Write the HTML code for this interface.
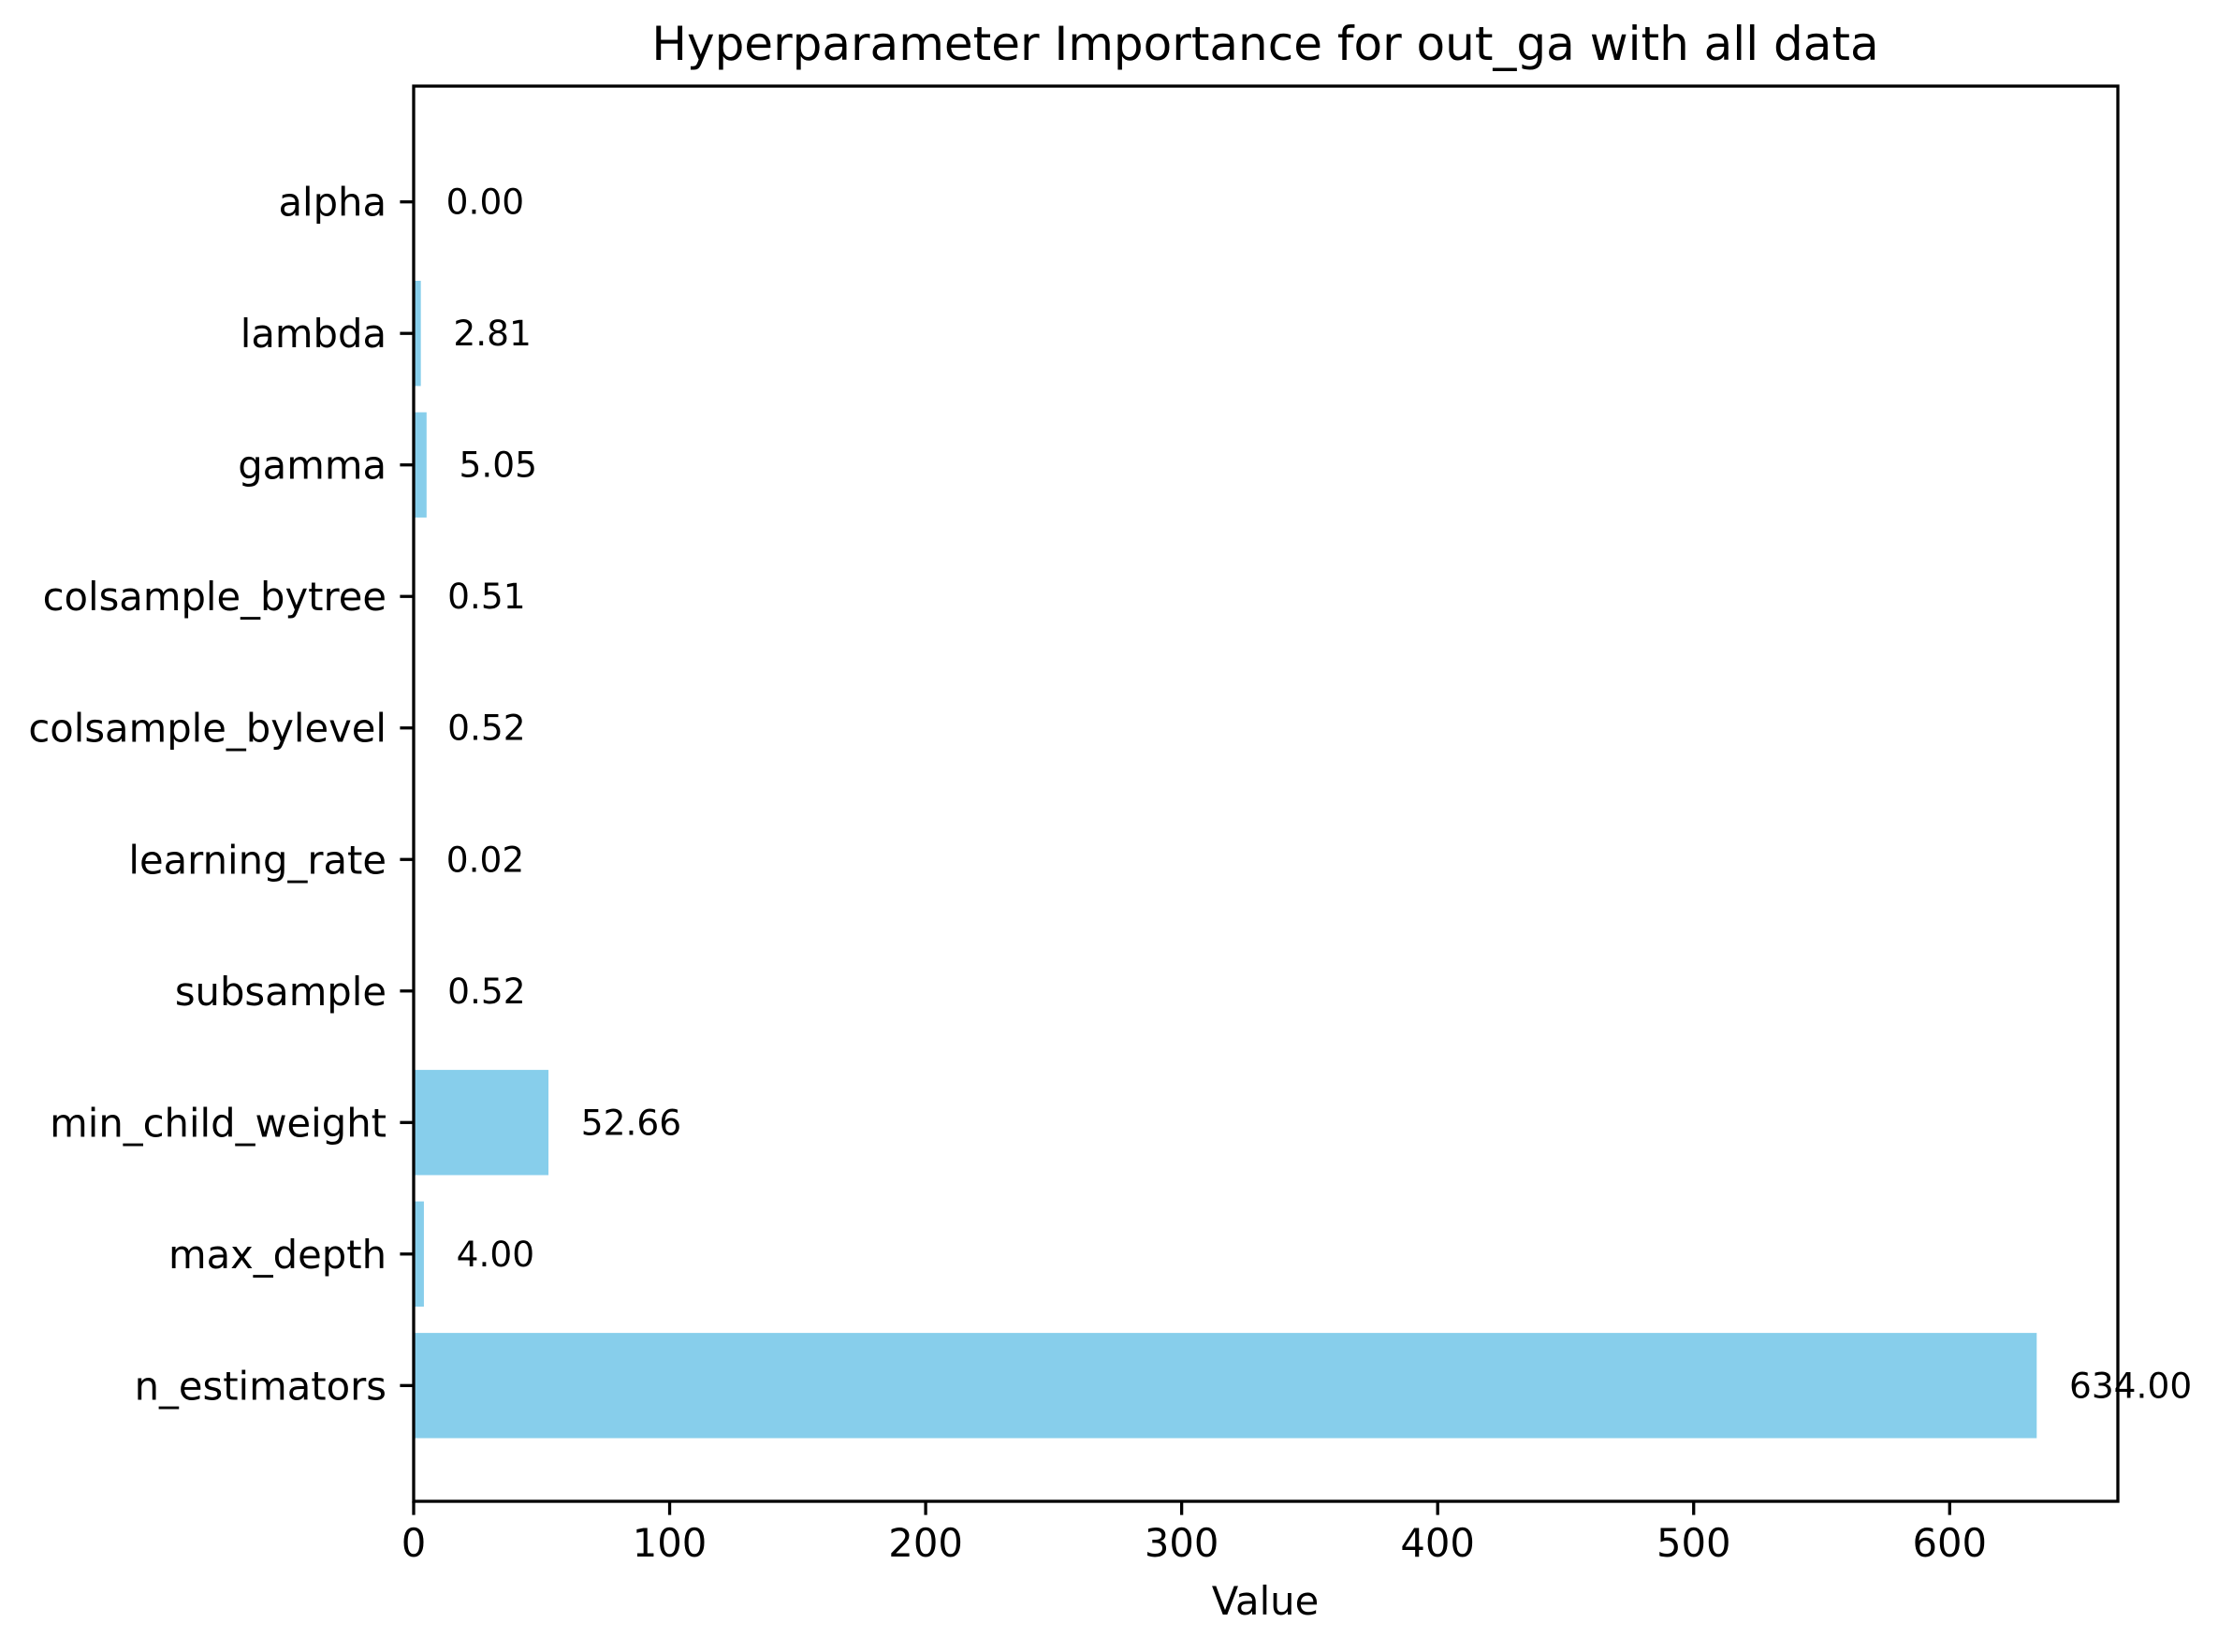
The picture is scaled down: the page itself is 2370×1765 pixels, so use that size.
<!DOCTYPE html>
<html><head><meta charset="utf-8"><style>
html,body{margin:0;padding:0;background:#fff;}
svg{display:block;font-family:"DejaVu Sans","Liberation Sans",sans-serif;}
</style></head><body>
<svg id="chart" width="2370" height="1765" viewBox="0 0 2370 1765" xmlns="http://www.w3.org/2000/svg">
<rect width="2370" height="1765" fill="#fff"/>
<text x="1352" y="64" font-size="50" text-anchor="middle" fill="#000">Hyperparameter Importance for out_ga with all data</text>
<g id="bars"></g>
<g id="axes"></g>
<text x="1352" y="1725" font-size="41.7" text-anchor="middle" fill="#000">Value</text>
</svg>
<script>
const categories = ["n_estimators","max_depth","min_child_weight","subsample","learning_rate","colsample_bylevel","colsample_bytree","gamma","lambda","alpha"];
const values = [634.00, 4.00, 52.66, 0.52, 0.02, 0.52, 0.51, 5.05, 2.81, 0.00];
const valueLabels = ["634.00","4.00","52.66","0.52","0.02","0.52","0.51","5.05","2.81","0.00"];
const xTicks = [0,100,200,300,400,500,600];

const NS = "http://www.w3.org/2000/svg";
const L = 442, R = 2263, T = 92, B = 1604;
const maxV = Math.max(...values);
const xMax = maxV * 1.05;
const yMin = -0.4 - 0.049 * (categories.length - 1 + 0.8), yMax = categories.length - 1 + 0.4 + 0.049 * (categories.length - 1 + 0.8);
function xs(v){ return L + (v / xMax) * (R - L); }
function ys(i){ return B - (i - yMin) / (yMax - yMin) * (B - T); }
function mk(tag, attrs, parent){ const e = document.createElementNS(NS, tag); for (const k in attrs) e.setAttribute(k, attrs[k]); parent.appendChild(e); return e; }

const bars = document.getElementById("bars");
const axes = document.getElementById("axes");
const bh = ys(0) - ys(0.8);
values.forEach((v, i) => {
  const r = mk("rect", {x: xs(0), y: ys(i + 0.4), width: Math.max(0, xs(v) - xs(0)), height: bh, fill: "#87ceeb"}, bars);
  
  
  const t = mk("text", {x: xs(v + maxV * 0.02), y: ys(i) + 13, "font-size": 37.5, fill: "#000"}, bars);
  t.textContent = valueLabels[i];
  
  
  const tk = mk("line", {x1: L, x2: L - 14.6, y1: ys(i), y2: ys(i), stroke: "#000", "stroke-width": 3.3}, axes);
  
  
  const lb = mk("text", {x: L - 29, y: ys(i) + 15, "font-size": 41.7, "text-anchor": "end", fill: "#000"}, axes);
  lb.textContent = categories[i];
  
  
});
xTicks.forEach(v => {
  const tk = mk("line", {x1: xs(v), x2: xs(v), y1: B, y2: B + 14.6, stroke: "#000", "stroke-width": 3.3}, axes);
  
  
  const lb = mk("text", {x: xs(v), y: B + 59, "font-size": 41.7, "text-anchor": "middle", fill: "#000"}, axes);
  lb.textContent = String(v);
  
  
});
const frame = mk("rect", {x: L, y: T, width: R - L, height: B - T, fill: "none", stroke: "#000", "stroke-width": 3.3}, axes);


</script>
</body></html>
